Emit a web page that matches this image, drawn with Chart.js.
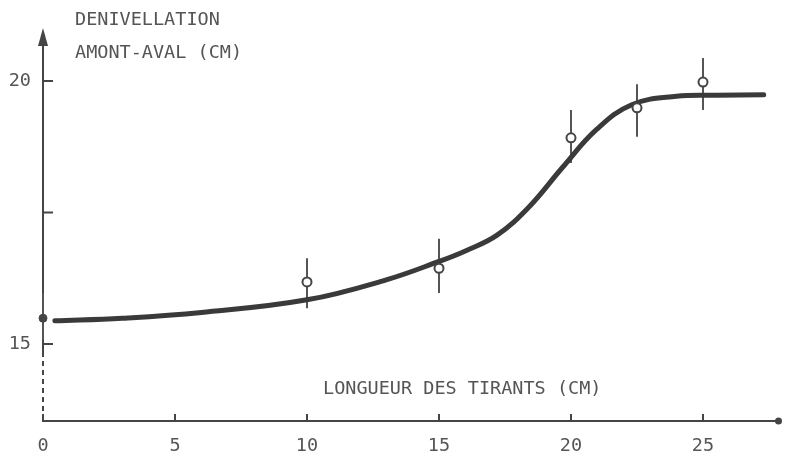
<!DOCTYPE html>
<html>
<head>
<meta charset="utf-8">
<script src="https://cdn.jsdelivr.net/npm/chart.js@4"></script>
<style>
html,body{margin:0;padding:0;background:#fff;}
#wrap{width:785px;height:453px;position:relative;}
</style>
</head>
<body>
<div id="wrap"><canvas id="c" width="785" height="453"></canvas></div>
<script>
// Measured points (x = longueur des tirants, y = dénivellation)
const pointX = [10, 15, 20, 22.5, 25];
const pointY = [16.18, 16.44, 18.92, 19.49, 19.98];
const errLow = [15.68, 15.97, 18.44, 18.94, 19.45];
const errHigh = [16.63, 17.0, 19.45, 19.94, 20.44];
// Point at origin (filled)
const originX = [0];
const originY = [15.49];
const originLow = [15.08];
const originHigh = [15.97];
// Fitted curve
const curveX = [0.45, 3, 6, 10, 13, 15, 16, 17.2, 18.4, 19.7, 20.95, 22.3, 24, 25.5, 27.3];
const curveY = [15.44, 15.49, 15.60, 15.84, 16.22, 16.57, 16.77, 17.07, 17.60, 18.37, 19.07, 19.55, 19.71, 19.73, 19.74];
// Axis ticks
const xTicks = [0, 5, 10, 15, 20, 25];
const yTicks = [15, 17.5, 20];
const yTickLabels = {15: '15', 17.5: '', 20: '20'};
const yTitle = ['DENIVELLATION', 'AMONT-AVAL (CM)'];
const xTitle = 'LONGUEUR DES TIRANTS (CM)';

const FONT = '"DejaVu Sans Mono", "Liberation Mono", monospace';
const TXT = '#555555';
const INK = '#454545';

const pts = pointX.map((x, i) => ({x, y: pointY[i]}));
const orig = originX.map((x, i) => ({x, y: originY[i]}));
const curve = curveX.map((x, i) => ({x, y: curveY[i]}));
const bars = [];
pointX.forEach((x, i) => { bars.push({x, y: errLow[i]}, {x, y: errHigh[i]}, {x, y: null}); });
originX.forEach((x, i) => { bars.push({x, y: originLow[i]}, {x, y: originHigh[i]}, {x, y: null}); });

const axesPlugin = {
  id: 'axesDeco',
  beforeDatasetsDraw(chart) {
    const {ctx, scales: {x, y}} = chart;
    const x0 = x.getPixelForValue(0);
    const yb = y.getPixelForValue(y.min);
    const yt = y.getPixelForValue(y.max);
    ctx.save();
    ctx.strokeStyle = INK;
    ctx.fillStyle = INK;
    ctx.lineWidth = 2;
    const ySplit = y.getPixelForValue(14.85);
    ctx.beginPath(); ctx.moveTo(x0, yt + 6); ctx.lineTo(x0, ySplit); ctx.stroke();
    ctx.setLineDash([5, 4]);
    ctx.beginPath(); ctx.moveTo(x0, ySplit); ctx.lineTo(x0, yb); ctx.stroke();
    ctx.setLineDash([]);
    ctx.beginPath();
    ctx.moveTo(x0, yt - 2);
    ctx.lineTo(x0 - 5, yt + 16);
    ctx.lineTo(x0 + 5, yt + 16);
    ctx.closePath(); ctx.fill();
    yTicks.forEach(v => {
      const py = y.getPixelForValue(v);
      ctx.beginPath(); ctx.moveTo(x0, py); ctx.lineTo(x0 + 10, py); ctx.stroke();
    });
    xTicks.forEach(v => {
      const px = x.getPixelForValue(v);
      ctx.beginPath(); ctx.moveTo(px, yb); ctx.lineTo(px, yb - 7); ctx.stroke();
    });
    ctx.beginPath(); ctx.arc(x.getPixelForValue(x.max), yb, 3.5, 0, Math.PI * 2); ctx.fill();
    ctx.fillStyle = TXT;
    ctx.font = '18.5px ' + FONT;
    ctx.textAlign = 'left';
    ctx.textBaseline = 'alphabetic';
    ctx.fillText(yTitle[0], 75, 25);
    ctx.fillText(yTitle[1], 75, 58);
    ctx.fillText(xTitle, 323, 394);
    ctx.restore();
  }
};

new Chart(document.getElementById('c'), {
  type: 'scatter',
  data: {
    datasets: [
      {
        label: 'mesures', data: pts, order: 0, clip: false,
        pointRadius: 4.5, pointHoverRadius: 4.5, pointBorderWidth: 2,
        pointBackgroundColor: '#fff', pointBorderColor: INK, showLine: false
      },
      {
        label: 'origine', data: orig, order: 0, clip: false,
        pointRadius: 4, pointHoverRadius: 4, pointBorderWidth: 1,
        pointBackgroundColor: INK, pointBorderColor: INK, showLine: false
      },
      {
        label: 'courbe', data: curve, order: 1, clip: false, showLine: true,
        borderColor: '#3a3a3a', borderWidth: 5, pointRadius: 0, tension: 0.4,
        borderCapStyle: 'round', fill: false
      },
      {
        label: 'barres', data: bars, order: 2, clip: false, showLine: true, spanGaps: false,
        borderColor: '#555', borderWidth: 2, pointRadius: 0, fill: false
      }
    ]
  },
  options: {
    responsive: false,
    animation: false,
    events: [],
    layout: {padding: {top: 30, right: 5, left: 0, bottom: 0}},
    plugins: {legend: {display: false}, tooltip: {enabled: false}, title: {display: false}},
    scales: {
      x: {
        type: 'linear', min: 0, max: 27.86,
        afterFit: s => { s.height = 32; },
        afterBuildTicks: s => { s.ticks = xTicks.map(v => ({value: v})); },
        grid: {display: false, drawTicks: false},
        border: {display: true, color: INK, width: 2},
        ticks: {color: TXT, font: {family: FONT, size: 18.5}, padding: 14, maxRotation: 0, autoSkip: false}
      },
      y: {
        type: 'linear', min: 13.536, max: 20.97,
        afterFit: s => { s.width = 43; },
        afterBuildTicks: s => { s.ticks = yTicks.map(v => ({value: v})); },
        grid: {display: false, drawTicks: false},
        border: {display: false},
        ticks: {color: TXT, font: {family: FONT, size: 18.5}, padding: 12, autoSkip: false,
          callback: v => (yTickLabels[v] !== undefined ? yTickLabels[v] : '')}
      }
    }
  },
  plugins: [axesPlugin]
});
</script>
</body>
</html>
